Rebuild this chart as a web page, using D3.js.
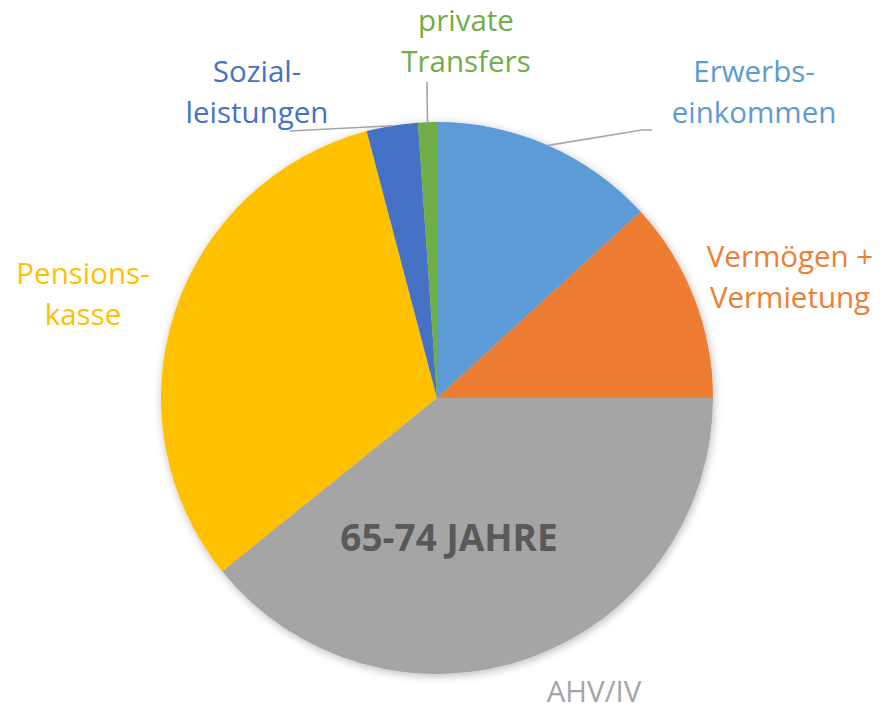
<!DOCTYPE html>
<html>
<head>
<meta charset="utf-8">
<script src="https://cdn.jsdelivr.net/npm/d3@7"></script>
<style>
html,body{margin:0;padding:0;background:#fff;}
svg{display:block;}
</style>
</head>
<body>
<svg id="chart" width="893" height="712"></svg>
<script>
const categories = ["Erwerbseinkommen","Vermögen + Vermietung","AHV/IV","Pensionskasse","Sozialleistungen","private Transfers"];
const values = [13.2, 11.8, 39.2, 31.7, 3.0, 1.1];
const labelLines = [["Erwerbs-","einkommen"],["Vermögen +","Vermietung"],["AHV/IV"],["Pensions-","kasse"],["Sozial-","leistungen"],["private","Transfers"]];
const colors = ["#5B9BD5","#ED7D31","#A5A5A5","#FFC000","#4472C4","#70AD47"];
const title = "65-74 JAHRE";

// label layout (x center, first baseline), leader line end point (or null)
const labelPos = [
  {x:754, y:82, leader:[[652,130],[642,130]]},
  {x:790, y:267, leader:null},
  {x:594, y:702, leader:null},
  {x:83, y:284, leader:null},
  {x:257, y:82, leader:[[290,131]]},
  {x:466, y:31, leader:[[427,82]]}
];

const svg = d3.select("#chart");
const cx = 437, cy = 398, r = 276;

const defs = svg.append("defs");
const f = defs.append("filter").attr("id","sh").attr("x","-10%").attr("y","-10%").attr("width","120%").attr("height","120%");
f.append("feDropShadow").attr("dx",1).attr("dy",2).attr("stdDeviation",4).attr("flood-color","#000").attr("flood-opacity",0.28);

const pie = d3.pie().sort(null).value(d => d)(values);
const arc = d3.arc().innerRadius(0).outerRadius(r);

const g = svg.append("g").attr("transform",`translate(${cx},${cy})`);
g.append("g").attr("filter","url(#sh)")
 .selectAll("path").data(pie).join("path")
 .attr("d", arc)
 .attr("fill", (d,i) => colors[i]);

// leader lines
const lineGen = d3.line();
pie.forEach((d,i) => {
  const lp = labelPos[i];
  if (!lp.leader) return;
  const a = (d.startAngle + d.endAngle)/2;
  const p0 = [cx + r*Math.sin(a), cy - r*Math.cos(a)];
  const pts = [p0].concat(lp.leader.slice().reverse());
  svg.append("path").attr("d", lineGen(pts)).attr("fill","none").attr("stroke","#A6A6A6").attr("stroke-width",1.6);
});

// labels
labelLines.forEach((lines,i) => {
  const lp = labelPos[i];
  const t = svg.append("text")
    .attr("x", lp.x).attr("y", lp.y)
    .attr("text-anchor","middle")
    .attr("font-family","'Open Sans', sans-serif")
    .attr("font-size", 29.5)
    .attr("fill", colors[i]);
  lines.forEach((ln,j) => {
    t.append("tspan").attr("x", lp.x).attr("y", lp.y + j*41).text(ln);
  });
});

svg.append("text")
  .attr("x", 449).attr("y", 551)
  .attr("text-anchor","middle")
  .attr("font-family","'Open Sans', sans-serif")
  .attr("font-weight","bold")
  .attr("font-size", 37)
  .attr("fill","#595959")
  .text(title);
</script>
</body>
</html>
